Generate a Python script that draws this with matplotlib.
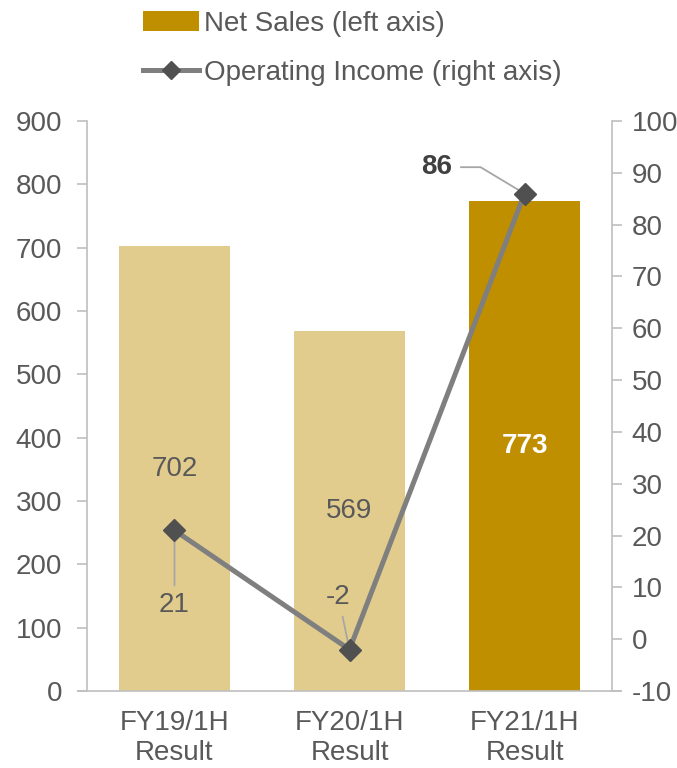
import matplotlib.pyplot as plt
from matplotlib.patches import Patch
from matplotlib.lines import Line2D
import numpy as np

plt.rcParams['font.family'] = ['Liberation Sans', 'DejaVu Sans']
plt.rcParams['axes.unicode_minus'] = False

categories = ['FY19/1H\nResult', 'FY20/1H\nResult', 'FY21/1H\nResult']
net_sales = [702, 569, 773]
op_income = [21, -2, 86]

light = '#E1CC8E'
dark = '#BF8F00'
txt = '#595959'
axis_col = '#BFBFBF'
fs = 20

fig = plt.figure(figsize=(6.77, 7.68), dpi=100)
ax = fig.add_axes([0.1285, 0.1003, 0.7755, 0.7421])
ax2 = ax.twinx()

x = np.arange(len(categories))
ax.bar(x, net_sales, width=0.63, color=[light, light, dark], zorder=2)
ax.set_xlim(-0.5, 2.5)
ax.set_ylim(0, 900)
ax.set_yticks(np.arange(0, 901, 100))
ax2.set_ylim(-10, 100)
ax2.set_yticks(np.arange(-10, 101, 10))
ax.set_xticks(x)
ax.set_xticklabels(categories)

for a in (ax, ax2):
    a.spines['top'].set_visible(False)
    for s in ('left', 'right', 'bottom'):
        a.spines[s].set_color(axis_col)
        a.spines[s].set_linewidth(1.2)
    a.tick_params(axis='y', colors=axis_col, labelcolor=txt, labelsize=fs, length=7, width=1.2)
ax.tick_params(axis='x', length=0, labelcolor=txt, labelsize=fs, pad=14)
ax.tick_params(axis='y', pad=11)
ax2.tick_params(axis='y', pad=7)
ax.spines['right'].set_visible(False)
ax2.spines['left'].set_visible(False)
ax2.spines['bottom'].set_visible(False)

# bottom axis line extends past the side axes a bit
ax.spines['bottom'].set_visible(False)
ax.plot([-0.55, 2.55], [0, 0], color=axis_col, lw=1.2, clip_on=False, zorder=3)

ax2.plot(x, op_income, color='#7F7F7F', lw=3.6, marker='D', markersize=11,
         markerfacecolor='#505050', markeredgecolor='#505050', zorder=4)

# bar labels
for i, v in enumerate(net_sales):
    if i == 2:
        ax.text(x[i], v / 2, str(v), ha='center', va='center', fontsize=fs,
                color='white', fontweight='bold')
    else:
        ax.text(x[i], v / 2, str(v), ha='center', va='center', fontsize=fs, color=txt)

lead = dict(arrowstyle='-', color='#A6A6A6', lw=1.3, shrinkA=3, shrinkB=0)
ax2.annotate(str(op_income[0]), xy=(x[0], op_income[0]), xytext=(0, -54),
             textcoords='offset points', ha='center', va='center', fontsize=fs, color=txt,
             arrowprops=lead)
ax2.annotate(str(op_income[1]), xy=(x[1], op_income[1]), xytext=(-8, 38),
             textcoords='offset points', ha='center', va='center', fontsize=fs, color=txt,
             arrowprops=lead)
ax2.annotate(str(op_income[2]), xy=(x[2], op_income[2]), xytext=(-63, 19),
             textcoords='offset points', ha='center', va='center', fontsize=fs, color='#404040',
             fontweight='bold',
             arrowprops=dict(arrowstyle='-', color='#A6A6A6', lw=1.3, shrinkA=4, shrinkB=0,
                             connectionstyle='angle,angleA=0,angleB=149,rad=0'))

handles = [Patch(facecolor=dark, edgecolor='none'),
           Line2D([], [], color='#7F7F7F', lw=3.6, marker='D', markersize=9,
                  markerfacecolor='#505050', markeredgecolor='#505050')]
fig.legend(handles, ['Net Sales (left axis)', 'Operating Income (right axis)'],
           loc='upper left', bbox_to_anchor=(143 / 677, 0.986), frameon=False,
           fontsize=fs, labelcolor=txt, handlelength=2.0, handletextpad=0.2,
           labelspacing=0.82, borderpad=0, borderaxespad=0)

fig.savefig('out.png', dpi=100)
